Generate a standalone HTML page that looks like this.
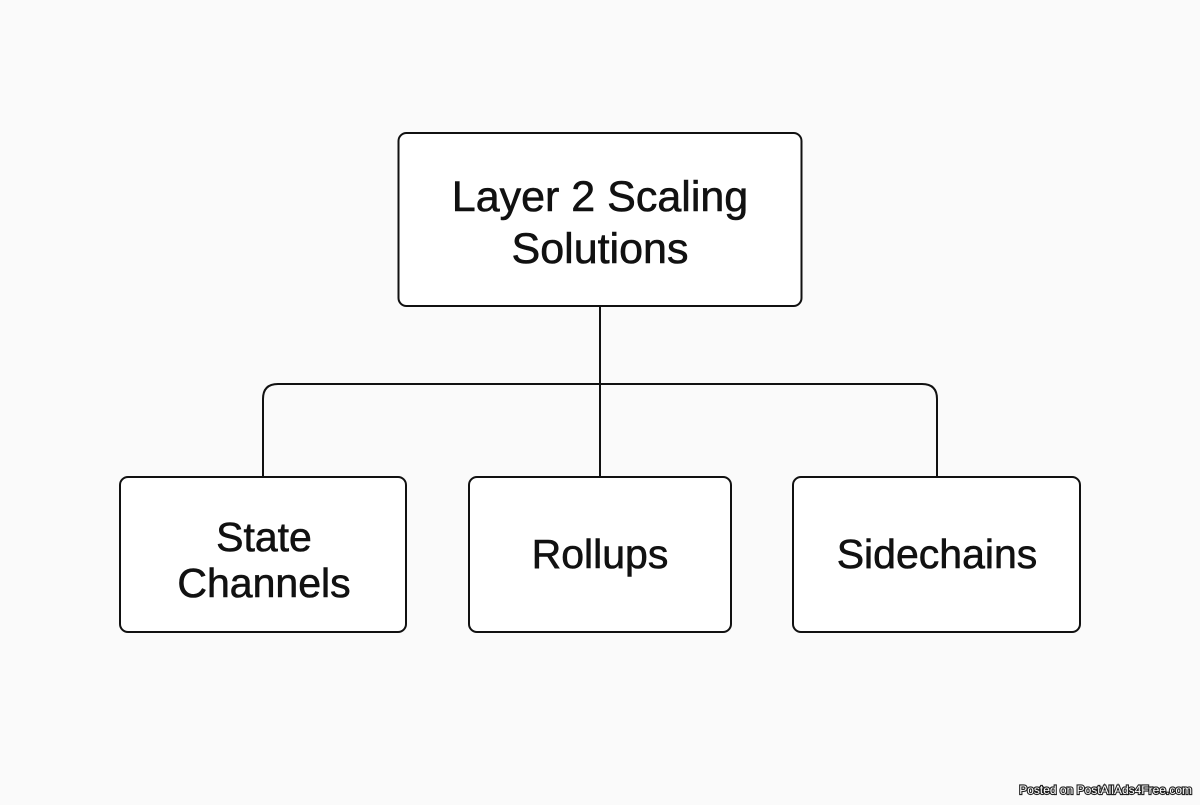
<!DOCTYPE html>
<html><head><style>
body{margin:0;width:1200px;height:800px;background:#fafafa;overflow:hidden;font-family:"Liberation Sans",sans-serif;}
</style></head><body>
<svg width="1200" height="800" xmlns="http://www.w3.org/2000/svg">
<rect width="1200" height="800" fill="#fafafa"/>
<g fill="#fff" stroke="#111" stroke-width="2">
<rect x="398.5" y="133" width="403" height="173" rx="8"/>
<rect x="120" y="477" width="286" height="155" rx="8"/>
<rect x="469" y="477" width="262" height="155" rx="8"/>
<rect x="793" y="477" width="287" height="155" rx="8"/>
</g>
<g fill="none" stroke="#111" stroke-width="2">
<path d="M600 306 V477"/>
<path d="M263 477 V399 Q263 384 278 384 H922 Q937 384 937 399 V477"/>
</g>
<g font-family="Liberation Sans, sans-serif" fill="#111" stroke="#111" stroke-width="0.6" text-anchor="middle">
<text x="600" y="211" font-size="43">Layer 2 Scaling</text>
<text x="600" y="263" font-size="43">Solutions</text>
<text x="264" y="551" font-size="41">State</text>
<text x="264" y="597" font-size="41">Channels</text>
<text x="600" y="568" font-size="41">Rollups</text>
<text x="937" y="568" font-size="41">Sidechains</text>
</g>
<text x="1192" y="794" font-size="12" fill="#fff" stroke="#222" stroke-width="2.2" paint-order="stroke" text-anchor="end" font-family="Liberation Sans, sans-serif">Posted on PostAllAds4Free.com</text>
</svg>
</body></html>
